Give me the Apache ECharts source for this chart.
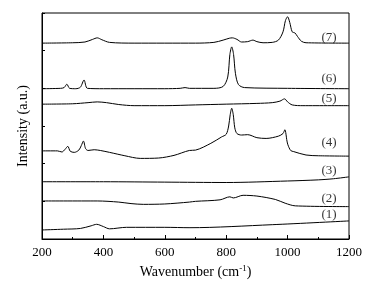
<!DOCTYPE html>
<html>
<head>
<meta charset="utf-8">
<script src="https://cdn.jsdelivr.net/npm/echarts@6/dist/echarts.min.js"></script>
<style>
  html, body { margin: 0; padding: 0; background: #fff; }
  #chart { width: 380px; height: 285px; }
</style>
</head>
<body>
<div id="chart"></div>
<script>
// spectra: wavenumber (cm-1) and stacked intensity (a.u.)
const wn1 = [200, 270, 325, 360, 378, 400, 420, 475, 600, 682, 950, 1200];
const int1 = [0.24, 0.26, 0.28, 0.35, 0.39, 0.33, 0.27, 0.31, 0.31, 0.30, 0.38, 0.48];

const wn2 = [200, 380, 450, 490, 530, 600, 680, 700, 780, 812, 823, 855, 900, 960, 992, 1025, 1200];
const int2 = [1.01, 1.01, 0.98, 0.94, 0.92, 0.93, 0.98, 1.00, 1.04, 1.12, 1.09, 1.16, 1.14, 1.05, 0.95, 0.88, 0.86];

const wn3 = [200, 400, 600, 800, 1000, 1100, 1150, 1200];
const int3 = [1.52, 1.52, 1.51, 1.50, 1.54, 1.57, 1.60, 1.65];

const wn4 = [200, 250, 265, 275, 284, 292, 305, 320, 328, 335, 342, 350, 370, 390, 420, 470, 520, 580, 630, 680, 700, 750, 785, 800, 808, 813, 818, 823, 828, 835, 850, 870, 900, 930, 970, 985, 991, 998, 1001, 1010, 1020, 1060, 1100, 1200];
const int4 = [2.34, 2.34, 2.31, 2.38, 2.46, 2.33, 2.30, 2.36, 2.48, 2.60, 2.40, 2.35, 2.37, 2.35, 2.30, 2.21, 2.14, 2.15, 2.22, 2.35, 2.36, 2.54, 2.71, 2.78, 3.00, 3.30, 3.47, 3.30, 2.95, 2.80, 2.76, 2.77, 2.69, 2.67, 2.73, 2.80, 2.90, 2.60, 2.50, 2.35, 2.32, 2.23, 2.21, 2.20];

const wn5 = [200, 300, 350, 380, 410, 450, 500, 600, 700, 800, 900, 950, 975, 990, 1000, 1015, 1050, 1200];
const int5 = [3.58, 3.59, 3.62, 3.64, 3.62, 3.57, 3.54, 3.54, 3.56, 3.58, 3.60, 3.62, 3.66, 3.72, 3.64, 3.56, 3.54, 3.54];

const wn6 = [200, 260, 272, 281, 290, 310, 325, 337, 348, 400, 600, 650, 666, 680, 760, 790, 805, 812, 818, 824, 830, 840, 860, 1000, 1200];
const int6 = [3.99, 4.00, 4.02, 4.11, 4.00, 3.99, 4.03, 4.22, 4.00, 3.99, 3.99, 4.00, 4.02, 4.00, 4.00, 4.05, 4.30, 4.90, 5.10, 4.90, 4.40, 4.10, 4.02, 4.00, 3.99];

const wn7 = [200, 300, 340, 365, 380, 395, 420, 500, 700, 760, 790, 810, 820, 835, 850, 870, 887, 900, 920, 950, 970, 985, 993, 1000, 1007, 1015, 1024, 1032, 1045, 1060, 1200];
const int7 = [5.20, 5.21, 5.23, 5.30, 5.34, 5.29, 5.22, 5.20, 5.20, 5.22, 5.28, 5.33, 5.34, 5.30, 5.23, 5.24, 5.28, 5.24, 5.21, 5.22, 5.28, 5.50, 5.80, 5.90, 5.75, 5.50, 5.47, 5.38, 5.25, 5.21, 5.20];

// curve labels
const tagNames = ['(1)', '(2)', '(3)', '(4)', '(5)', '(6)', '(7)'];
const tagX = [1135, 1135, 1135, 1135, 1135, 1135, 1135];
const tagY = [0.64, 1.08, 1.81, 2.57, 3.74, 4.27, 5.36];

const xTicks = [200, 400, 600, 800, 1000, 1200];

const FONT = '"Liberation Serif", "DejaVu Serif", serif';

function pairs(xs, ys) {
  return xs.map((x, i) => [x, ys[i]]);
}

const spectra = [[wn1, int1], [wn2, int2], [wn3, int3], [wn4, int4], [wn5, int5], [wn6, int6], [wn7, int7]];

const series = spectra.map(s => ({
  type: 'line',
  data: pairs(s[0], s[1]),
  smooth: 0.3,
  symbol: 'none',
  lineStyle: { color: '#000', width: 1 },
  silent: true
}));

series.push({
  type: 'scatter',
  symbolSize: 0,
  data: tagX.map((x, i) => ({ value: [x, tagY[i]], name: tagNames[i] })),
  label: {
    show: true,
    position: 'inside',
    formatter: '{b}',
    color: '#000',
    fontFamily: FONT,
    fontSize: 13
  },
  silent: true
});

let myChart = echarts.init(document.getElementById('chart'));
myChart.setOption({
  animation: false,
  grid: { left: 42, right: 31, top: 13, bottom: 46, show: true, borderColor: '#000', borderWidth: 1 },
  xAxis: {
    type: 'value',
    min: xTicks[0],
    max: xTicks[xTicks.length - 1],
    interval: 200,
    name: 'Wavenumber (cm{sup|-1})',
    nameLocation: 'middle',
    nameGap: 22,
    nameTextStyle: {
      color: '#000', fontFamily: FONT, fontSize: 14,
      rich: { sup: { fontSize: 9, verticalAlign: 'top', padding: [0, 0, 8, 0], fontFamily: FONT, color: '#000' } }
    },
    axisLine: { lineStyle: { color: '#000', width: 1 } },
    axisTick: { inside: true, length: 4, lineStyle: { color: '#000' } },
    minorTick: { show: true, splitNumber: 2, length: 2, lineStyle: { color: '#000' } },
    axisLabel: { color: '#000', fontFamily: FONT, fontSize: 13, margin: 7, formatter: v => String(v) },
    splitLine: { show: false }
  },
  yAxis: {
    type: 'value',
    min: 0,
    max: 6,
    interval: 1,
    name: 'Intensity (a.u.)',
    nameLocation: 'middle',
    nameGap: 12,
    nameTextStyle: { color: '#000', fontFamily: FONT, fontSize: 14 },
    axisLine: { show: true, lineStyle: { color: '#000', width: 1 } },
    axisTick: { show: true, inside: true, length: 3, lineStyle: { color: '#000' } },
    axisLabel: { show: false },
    splitLine: { show: false }
  },
  series: series
});
</script>
</body>
</html>
